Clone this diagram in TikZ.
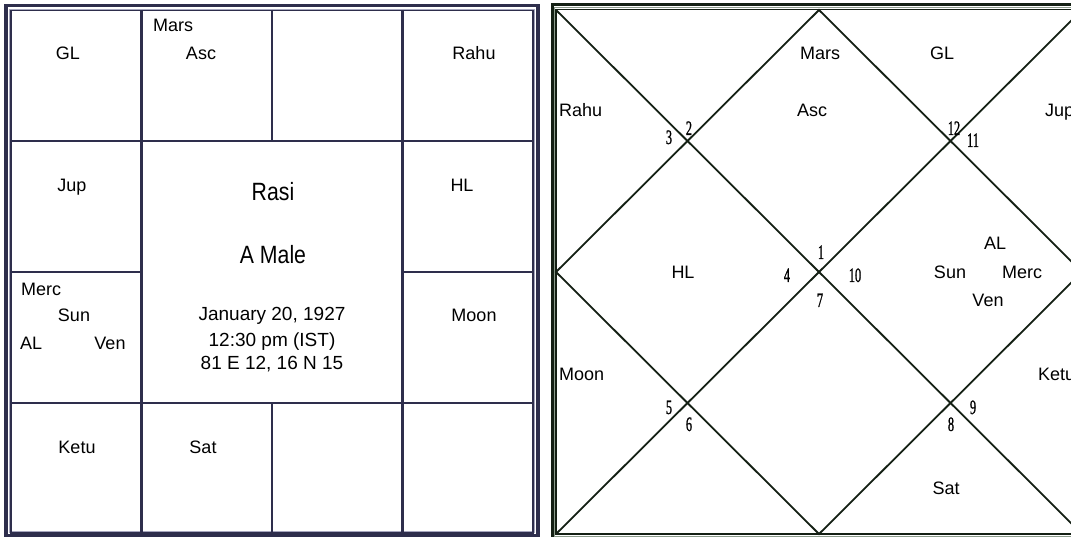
\documentclass[tikz,border=0pt]{standalone}
\usepackage{fontspec}
\setmainfont{Liberation Sans}
\newfontfamily\titlefont[FakeStretch=0.85]{Liberation Sans}
\newfontfamily\housefont[FakeStretch=0.6, FakeBold=1]{Liberation Serif}
\usepackage{xcolor}
\usepackage{tikz}
\usetikzlibrary{positioning}

\definecolor{rasiline}{HTML}{2E2E4C}
\definecolor{rasilight}{HTML}{A6A6BE}
\definecolor{bhavline}{HTML}{142014}
\definecolor{bhavlight}{HTML}{8C9C8C}

\begin{document}
\begin{tikzpicture}[x=1pt, y=-1pt,
    planet/.style={font=\fontsize{18}{20}\selectfont, inner sep=0pt, text height=13pt, text depth=0pt},
    info/.style={font=\fontsize{19}{21}\selectfont, inner sep=0pt, text height=14pt, text depth=0pt},
    titletext/.style={font=\titlefont\fontsize{25}{27}\selectfont, inner sep=0pt, text height=18pt, text depth=0pt},
    house/.style={font=\housefont\fontsize{20.5}{22}\selectfont, inner sep=0pt, text height=14pt, text depth=0pt},
    rasigrid/.style={draw=rasiline, line width=2.4pt},
    bhavgrid/.style={draw=bhavline, line width=1.8pt}]
        \useasboundingbox (0,0) rectangle (1071,537);
        \clip (0,0) rectangle (1071,537);
        \fill[white] (0,0) rectangle (1071,537);

        % Rasi chart frame
        \draw[draw=rasiline, line width=3.5pt] (6,5.5) rectangle (538,535.5);
        \draw[draw=rasilight, line width=1.5pt] (10,9.5) rectangle (534,532);

        % Rasi chart grid
        \draw[rasigrid] (11,141) -- (533,141);
        \draw[rasigrid] (11,403) -- (533,403);
        \draw[rasigrid] (11,272) -- (141.5,272);
        \draw[rasigrid] (402.5,272) -- (533,272);
        \draw[rasigrid] (141.5,10) -- (141.5,534);
        \draw[rasigrid] (402.5,10) -- (402.5,534);
        \draw[rasigrid] (272,10) -- (272,141);
        \draw[rasigrid] (272,403) -- (272,534);
        \draw[draw=rasiline, line width=1.5pt] (11,10.5) rectangle (533,533);

        % Rasi chart planets
        \node[planet] (rGL) at (68,53) {GL};
        \node[planet, anchor=west] (rMars) at (153,25) {Mars};
        \node[planet] (rAsc) at (201,53) {Asc};
        \node[planet] (rRahu) at (474,53) {Rahu};
        \node[planet] (rJup) at (72,185) {Jup};
        \node[planet] (rHL) at (462,185) {HL};
        \node[planet, anchor=west] (rMerc) at (21,289) {Merc};
        \node[planet] (rSun) at (74,315) {Sun};
        \node[planet, anchor=west] (rAL) at (20,343) {AL};
        \node[planet] (rVen) at (110,343) {Ven};
        \node[planet] (rMoon) at (474,315) {Moon};
        \node[planet] (rKetu) at (77,447) {Ketu};
        \node[planet] (rSat) at (203,447) {Sat};

        % Rasi chart centre
        \node[titletext] (chartname) at (273,192) {Rasi};
        \node[titletext] (native) at (273,255) {A Male};
        \node[info] (birthdate) at (272,314) {January 20, 1927};
        \node[info] (birthtime) at (272,339) {12:30 pm (IST)};
        \node[info] (birthplace) at (272,362) {81 E 12, 16 N 15};

        % Bhava chart frame
        \draw[draw=bhavline, line width=3pt] (552,5) rectangle (1086,540);
        \draw[draw=bhavlight, line width=1pt] (554.5,7.5) rectangle (1083.5,536.5);
        \draw[draw=bhavline, line width=1.5pt] (556,9.5) rectangle (1082,534);

        % Bhava chart lines
        \coordinate (tl) at (556,10);
        \coordinate (tr) at (1082,10);
        \coordinate (bl) at (556,534);
        \coordinate (br) at (1082,534);
        \coordinate (tm) at (819,10);
        \coordinate (rm) at (1082,272);
        \coordinate (bm) at (819,534);
        \coordinate (lm) at (556,272);
        \draw[bhavgrid] (tl) -- (br);
        \draw[bhavgrid] (tr) -- (bl);
        \draw[bhavgrid] (tm) -- (rm) -- (bm) -- (lm) -- cycle;

        % Bhava chart house numbers
        \node[house] (h1) at (821,252) {1};
        \node[house] (h2) at (689,128) {2};
        \node[house] (h3) at (669,137) {3};
        \node[house] (h4) at (787,275) {4};
        \node[house] (h5) at (669,407) {5};
        \node[house] (h6) at (689,424) {6};
        \node[house] (h7) at (820,300) {7};
        \node[house] (h8) at (951,424) {8};
        \node[house] (h9) at (973,407) {9};
        \node[house] (h10) at (855,275) {10};
        \node[house] (h11) at (973,140) {11};
        \node[house] (h12) at (954,128) {12};

        % Bhava chart planets
        \node[planet] (bMars) at (820,53) {Mars};
        \node[planet] (bGL) at (942,53) {GL};
        \node[planet, anchor=west] (bRahu) at (559,110) {Rahu};
        \node[planet] (bAsc) at (812,110) {Asc};
        \node[planet, anchor=west] (bJup) at (1045,110) {Jup};
        \node[planet] (bHL) at (683,272) {HL};
        \node[planet] (bAL) at (995,243) {AL};
        \node[planet] (bSun) at (950,272) {Sun};
        \node[planet] (bMerc) at (1022,272) {Merc};
        \node[planet] (bVen) at (988,300) {Ven};
        \node[planet, anchor=west] (bMoon) at (559,374) {Moon};
        \node[planet, anchor=west] (bKetu) at (1038,374) {Ketu};
        \node[planet] (bSat) at (946,488) {Sat};
      \end{tikzpicture}
\end{document}
